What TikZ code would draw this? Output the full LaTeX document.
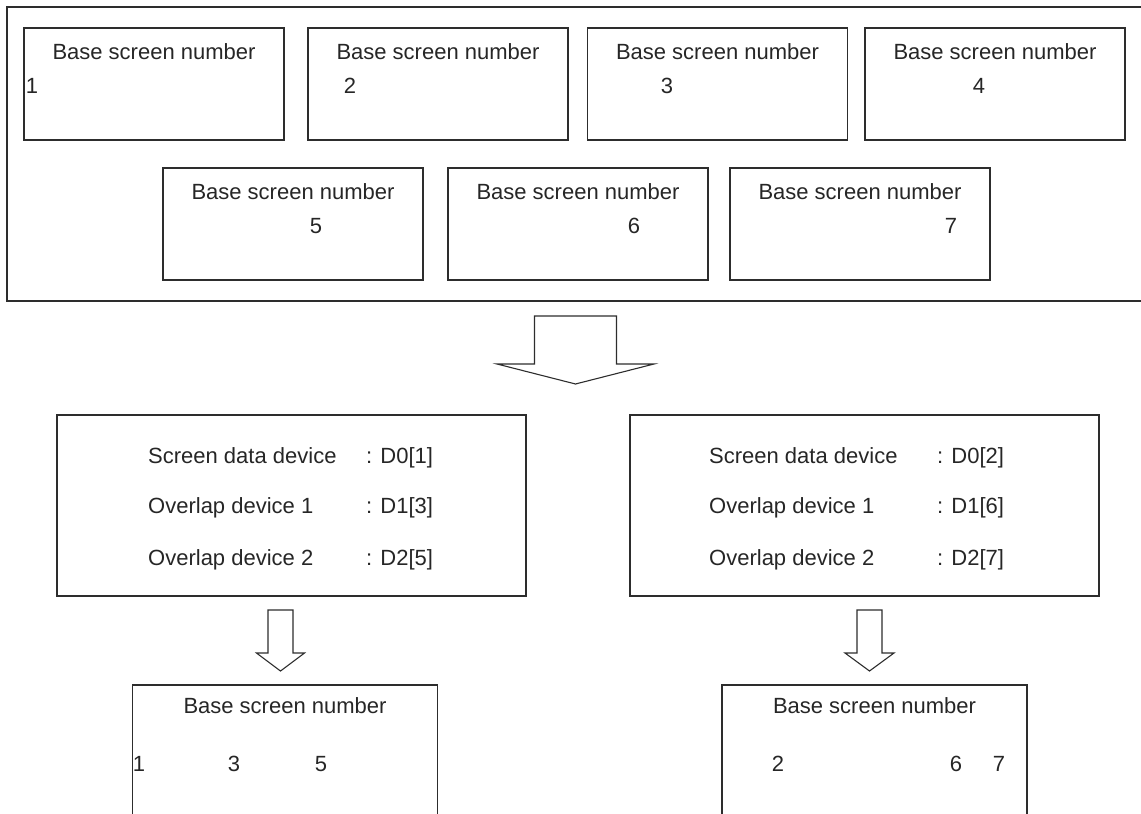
\documentclass[tikz,border=0pt]{standalone}
\usepackage{fontspec}
\setmainfont{Liberation Sans}
\usetikzlibrary{positioning,calc}
\definecolor{mydark}{RGB}{45,45,45}
\tikzset{
  outerframe/.style={rectangle, draw=mydark, line width=1.2pt,
    minimum width=1180pt, minimum height=294pt, inner sep=0pt},
  scrbox/.style={rectangle, draw=mydark, line width=1.1pt,
    minimum width=260pt, minimum height=112pt, inner sep=0pt},
  devbox/.style={rectangle, draw=mydark, line width=1.1pt,
    minimum width=469pt, minimum height=181pt, inner sep=0pt},
  resbox/.style={rectangle, draw=mydark, line width=1.1pt,
    minimum width=305pt, minimum height=160pt, inner sep=0pt},
  lbl/.style={font=\fontsize{22}{26}\selectfont, inner sep=0pt, color=black!85},
  hollow/.style={draw=mydark, line width=1.1pt, line join=miter}
}
% hollow down arrow: x, top, shoulder, tip, shaft half width, head half width
\newcommand{\hollowarrow}[6]{%
  \draw[hollow] (#1-#5,#2) -- (#1+#5,#2) -- (#1+#5,#3) -- (#1+#6,#3)
    -- (#1,#4) -- (#1-#6,#3) -- (#1-#5,#3) -- cycle;}
\begin{document}
\begin{tikzpicture}[x=1pt, y=-1pt]
  \clip (0,0) rectangle (1141,814);
  % Base screens
  \node[outerframe] (frame) at (597,154) {};
  \node[scrbox] (b1) at (154,84) {};
  \node[scrbox] (b2) at (438,84) {};
  \node[scrbox] (b3) at (717.5,84) {};
  \node[scrbox] (b4) at (995,84) {};
  \node[scrbox] (b5) at (293,224) {};
  \node[scrbox] (b6) at (578,224) {};
  \node[scrbox] (b7) at (860,224) {};
  \foreach \b in {1,...,7}
    \node[lbl, below=16pt of b\b.north] (t\b) {Base screen number};
  \node[lbl] (n1) at (32,86) {1};
  \node[lbl] (n2) at (350,86) {2};
  \node[lbl] (n3) at (667,86) {3};
  \node[lbl] (n4) at (979,86) {4};
  \node[lbl] (n5) at (316,226) {5};
  \node[lbl] (n6) at (634,226) {6};
  \node[lbl] (n7) at (951,226) {7};
  \hollowarrow{575.5}{316}{364}{384}{41}{78.5}
  % Device settings
  \node[devbox] (d1) at (291.5,505.5) {};
  \node[devbox] (d2) at (864.5,505.5) {};
  \node[lbl, anchor=base west] (s1) at (148,463) {Screen data device};
  \node[lbl, anchor=base west] (o11) at (148,513) {Overlap device 1};
  \node[lbl, anchor=base west] (o21) at (148,565) {Overlap device 2};
  \node[lbl, anchor=base west] (v1) at (366,463) {: D0[1]};
  \node[lbl, anchor=base west] (v2) at (366,513) {: D1[3]};
  \node[lbl, anchor=base west] (v3) at (366,565) {: D2[5]};
  \node[lbl, anchor=base west] (s2) at (709,463) {Screen data device};
  \node[lbl, anchor=base west] (o12) at (709,513) {Overlap device 1};
  \node[lbl, anchor=base west] (o22) at (709,565) {Overlap device 2};
  \node[lbl, anchor=base west] (w1) at (937,463) {: D0[2]};
  \node[lbl, anchor=base west] (w2) at (937,513) {: D1[6]};
  \node[lbl, anchor=base west] (w3) at (937,565) {: D2[7]};
  \hollowarrow{280.5}{610}{653}{671}{12.5}{24}
  \hollowarrow{869.5}{610}{653}{671}{12.5}{24.5}
  % Results
  \node[resbox] (r1) at (285,765) {};
  \node[resbox] (r2) at (874.5,765) {};
  \node[lbl, below=13pt of r1.north] (rt1) {Base screen number};
  \node[lbl, below=13pt of r2.north] (rt2) {Base screen number};
  \node[lbl] (m1) at (139,764) {1};
  \node[lbl] (m3) at (234,764) {3};
  \node[lbl] (m5) at (321,764) {5};
  \node[lbl] (m2) at (778,764) {2};
  \node[lbl] (m6) at (956,764) {6};
  \node[lbl] (m7) at (999,764) {7};
\end{tikzpicture}
\end{document}
